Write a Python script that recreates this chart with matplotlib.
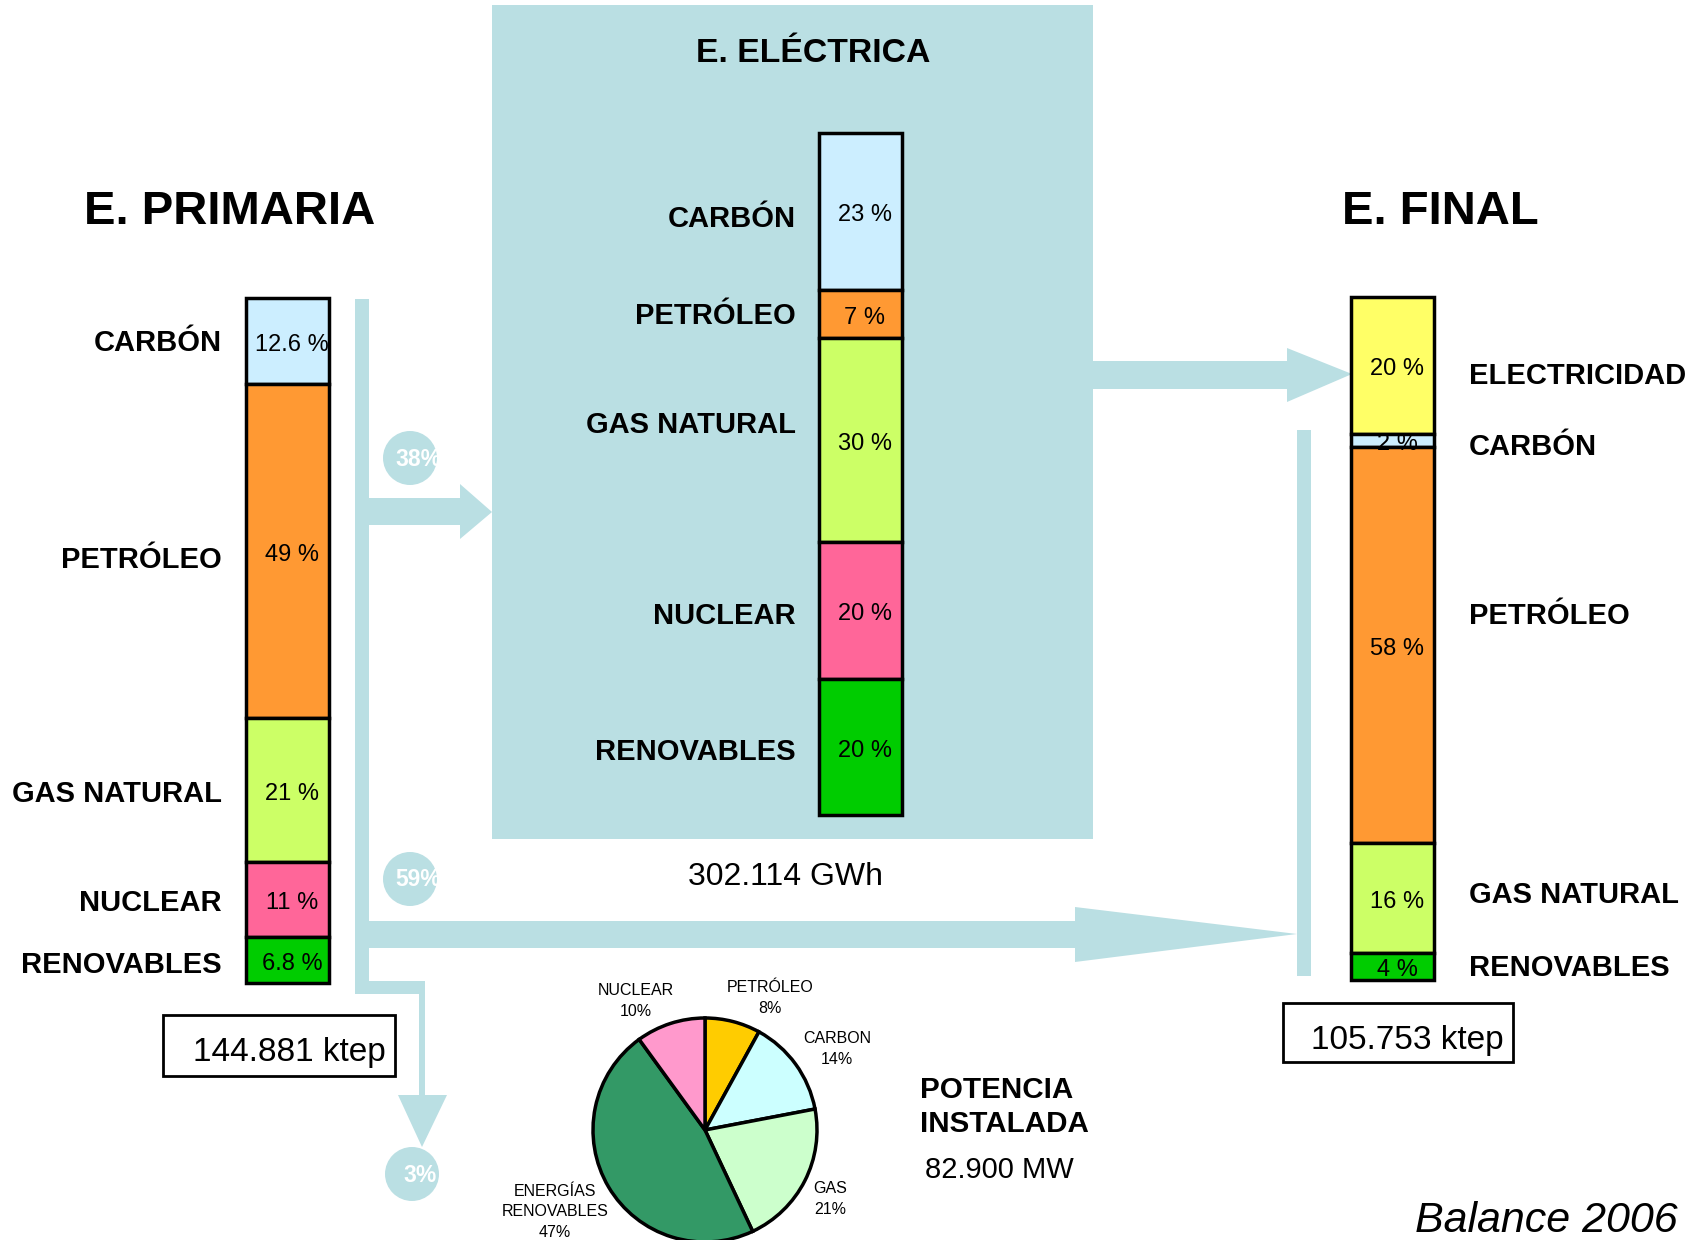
#Energy balance 2006: primary, electric and final energy with installed power pie
import matplotlib.pyplot as plt
from matplotlib.patches import Rectangle, Polygon, Circle

plt.rcParams['font.family'] = ['Liberation Sans', 'DejaVu Sans']

#Data
primaria_names = ['CARBÓN', 'PETRÓLEO', 'GAS NATURAL', 'NUCLEAR', 'RENOVABLES']
primaria_vals = [12.6, 49, 21, 11, 6.8]
electrica_names = ['CARBÓN', 'PETRÓLEO', 'GAS NATURAL', 'NUCLEAR', 'RENOVABLES']
electrica_vals = [23, 7, 30, 20, 20]
final_names = ['ELECTRICIDAD', 'CARBÓN', 'PETRÓLEO', 'GAS NATURAL', 'RENOVABLES']
final_vals = [20, 2, 58, 16, 4]
flow_pcts = [38, 59, 3]
pie_names = ['PETRÓLEO', 'CARBON', 'GAS', 'ENERGÍAS\nRENOVABLES', 'NUCLEAR']
pie_vals = [8, 14, 21, 47, 10]
totals = ['144.881 ktep', '302.114 GWh', '105.753 ktep', '82.900 MW']

#Colours
teal = '#badfe3'
col = {'CARBÓN': '#cceeff', 'PETRÓLEO': '#ff9933', 'GAS NATURAL': '#ccff66',
       'NUCLEAR': '#ff6699', 'RENOVABLES': '#00cc00', 'ELECTRICIDAD': '#ffff66'}
pie_cols = ['#ffcc00', '#ccffff', '#ccffcc', '#339966', '#ff99cc']

fig = plt.figure(figsize=(16.97, 12.4), dpi=100)
ax = fig.add_axes([0, 0, 1, 1])
ax.set_xlim(0, 1697)
ax.set_ylim(1240, 0)
ax.axis('off')

#Background of the electric box and the flow arrows
def rect(x0, y0, x1, y1, **kw):
    ax.add_patch(Rectangle((x0, y0), x1 - x0, y1 - y0, **kw))

rect(492, 5, 1093, 839, color=teal, lw=0)
rect(355, 299, 369, 994, color=teal, lw=0)
rect(355, 981, 425, 994, color=teal, lw=0)
rect(419, 981, 425, 1096, color=teal, lw=0)
ax.add_patch(Polygon([(398, 1095), (447, 1095), (422, 1147)], color=teal, lw=0))
rect(369, 498, 461, 525, color=teal, lw=0)
ax.add_patch(Polygon([(460, 484), (492, 512), (460, 539)], color=teal, lw=0))
rect(369, 921, 1076, 948, color=teal, lw=0)
ax.add_patch(Polygon([(1075, 907), (1297, 934), (1075, 962)], color=teal, lw=0))
rect(1093, 361, 1288, 389, color=teal, lw=0)
ax.add_patch(Polygon([(1287, 348), (1352, 374), (1287, 402)], color=teal, lw=0))
rect(1297, 430, 1311, 976, color=teal, lw=0)

#Flow percentage circles
for p, (cx, cy) in zip(flow_pcts, [(410, 458), (410, 879), (412, 1174)]):
    c = Circle((cx, cy), 27, color=teal, lw=0)
    ax.add_patch(c)
    t = ax.text(cx + 8, cy + 1, f'{p}%', color='white', fontsize=16.5,
                fontweight='bold', ha='center', va='center')
    t.set_clip_path(c)

#Stacked bars
def stack(names, vals, xc, top, total_h, label_x, label_ha, label_y):
    scale = total_h / sum(vals)
    bottoms = [top]
    for v in vals[:-1]:
        bottoms.append(bottoms[-1] + v * scale)
    hs = [v * scale for v in vals]
    bars = ax.bar([xc] * len(vals), hs, width=83, bottom=bottoms,
                  color=[col[n] for n in names], edgecolor='black', linewidth=2.5)
    for b, v, bt, h in zip(bars, vals, bottoms, hs):
        t = ax.text(xc + 5, bt + h / 2 + 4, f'{v:g} %', fontsize=17,
                    ha='center', va='center')
        t.set_clip_path(b)
    for n, y in zip(names, label_y):
        ax.text(label_x, y + 3, n, fontsize=21, fontweight='bold',
                ha=label_ha, va='center')

stack(primaria_names, primaria_vals, 287, 298, 685, 222, 'right',
      [340, 557, 791, 900, 962])
stack(electrica_names, electrica_vals, 860, 133, 682, 796, 'right',
      [216, 313, 422, 613, 749])
stack(final_names, final_vals, 1392.5, 297, 683, 1469, 'left',
      [373, 444, 613, 892, 965])

#Titles
ax.text(230, 212, 'E. PRIMARIA', fontsize=34, fontweight='bold', ha='center', va='center')
ax.text(813, 53, 'E. ELÉCTRICA', fontsize=24.3, fontweight='bold', ha='center', va='center')
ax.text(1440, 212, 'E. FINAL', fontsize=34, fontweight='bold', ha='center', va='center')

#Totals
rect(163, 1015, 395, 1076, fill=False, edgecolor='black', lw=2)
ax.text(289, 1053, totals[0], fontsize=24, ha='center', va='center')
ax.text(786, 877, totals[1], fontsize=23, ha='center', va='center')
rect(1283, 1003, 1513, 1062, fill=False, edgecolor='black', lw=2)
ax.text(1407, 1040, totals[2], fontsize=24, ha='center', va='center')
ax.text(920, 1107, 'POTENCIA\nINSTALADA', fontsize=21.3, fontweight='bold',
        ha='left', va='center', linespacing=1.3)
ax.text(925, 1170, totals[3], fontsize=21, ha='left', va='center')
ax.text(1678, 1221, 'Balance 2006', fontsize=31, style='italic', ha='right', va='center')

#Installed power pie
pax = fig.add_axes([(705 - 140) / 1697, (1240 - 1130 - 140) / 1240, 280 / 1697, 280 / 1240])
pax.pie(pie_vals, colors=pie_cols, startangle=90, counterclock=False, radius=1,
        wedgeprops=dict(edgecolor='black', linewidth=2.5))
pax.set_xlim(-1.25, 1.25)
pax.set_ylim(-1.25, 1.25)
pax.axis('off')
for n, v, (x, y) in zip(pie_names, pie_vals,
                        [(770, 998), (837, 1049), (830, 1199), (555, 1212), (636, 1001)]):
    ax.text(x, y, f'{n}\n{v}%', fontsize=11.5, ha='center', va='center', linespacing=1.45)

fig.savefig('out.png', dpi=100)
